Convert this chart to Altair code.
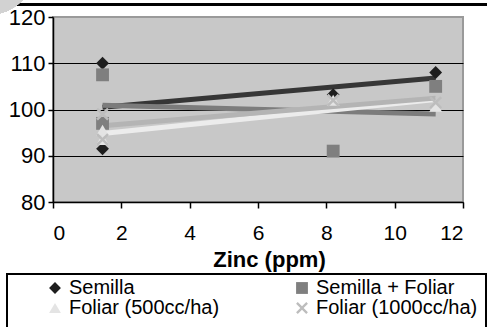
import altair as alt
import pandas as pd

# ---- data ----
series_names = ["Semilla", "Semilla + Foliar", "Foliar (500cc/ha)", "Foliar (1000cc/ha)"]
zinc_ppm = [1.45, 1.45, 8.2, 11.2]
semilla = [110, 91.5, 103.2, 108]
semilla_foliar = [107.5, 97, 91, 105]
foliar_500 = [95.5, 93.5, 102, 100.7]
foliar_1000 = [99, 93.5, 102, 101.5]

x_ticks = [0, 2, 4, 6, 8, 10, 12]
y_ticks = [80, 90, 100, 110, 120]

marker_colors = ["#1e1e1e", "#7f7f7f", "#e4e4e4", "#bdbdbd"]
line_colors = ["#363636", "#7c7c7c", "#ececec", "#b4b4b4"]
x_shape = "M-1,-0.72L-0.72,-1L0,-0.28L0.72,-1L1,-0.72L0.28,0L1,0.72L0.72,1L0,0.28L-0.72,1L-1,0.72L-0.28,0Z"
shapes = ["diamond", "square", "triangle-up", x_shape]

rows = []
for name, lc, vals in zip(series_names, line_colors, [semilla, semilla_foliar, foliar_500, foliar_1000]):
    for xv, yv in zip(zinc_ppm, vals):
        rows.append({"series": name, "lcolor": lc, "zinc": xv, "value": yv})
df = pd.DataFrame(rows)

FONT = "Liberation Sans"

x_enc = alt.X(
    "zinc:Q",
    scale=alt.Scale(domain=[0, 12], nice=False),
    axis=alt.Axis(
        values=x_ticks, title="Zinc (ppm)", grid=False,
        tickSize=6, tickColor="black", domainColor="black", domainWidth=1.5, tickWidth=1.5,
        labelFontSize=21, labelFont=FONT, labelColor="black", labelPadding=14,
        titleFont=FONT, titleFontSize=22, titleFontWeight="bold", titleColor="black",
        titleX=216, titleY=64, titleBaseline="alphabetic",
    ),
)
y_enc = alt.Y(
    "value:Q",
    scale=alt.Scale(domain=[80, 120], nice=False),
    axis=alt.Axis(
        values=y_ticks, title=None, grid=True,
        gridColor={"condition": {"test": "datum.value === 120", "value": "#9a9a9a"}, "value": "black"},
        gridWidth=1.2,
        tickSize=5, tickColor="black", domainColor="black", domainWidth=1.5, tickWidth=1.5,
        labelFontSize=22, labelFont=FONT, labelColor="black", labelPadding=3,
    ),
)

base = alt.Chart(df)

lines = base.transform_regression(
    "zinc", "value", groupby=["series", "lcolor"]
).mark_line(strokeWidth=5, strokeCap="butt").encode(
    x=x_enc,
    y=y_enc,
    color=alt.Color("lcolor:N", scale=None),
    detail="series:N",
)

legend = alt.Legend(
    orient="none", legendX=-8, legendY=261, columns=2, direction="horizontal", title=None,
    labelFontSize=20, labelFont=FONT, labelColor="black", labelLimit=400,
    symbolSize=140, symbolStrokeWidth=0, columnPadding=72, rowPadding=0,
    labelOffset=4, padding=0, symbolOpacity=1,
)

points = base.mark_point(filled=True, size=165, opacity=1).encode(
    x=x_enc,
    y=y_enc,
    color=alt.Color("series:N", scale=alt.Scale(domain=series_names, range=marker_colors), legend=legend),
    shape=alt.Shape("series:N", scale=alt.Scale(domain=series_names, range=shapes), legend=legend),
)

# decorative frame pieces
deco_circle = alt.Chart(df).mark_circle(size=7854, color="#d2d2d2", opacity=1).encode(
    x=alt.value(-63), y=alt.value(-47)
)
top_rule = alt.Chart(df).mark_rule(color="black", strokeWidth=1.5).encode(
    x=alt.value(-53), x2=alt.value(434), y=alt.value(-12.5)
)
legend_box = alt.Chart(df).mark_rect(fillOpacity=0, stroke="black", strokeWidth=1.5).encode(
    x=alt.value(-46), x2=alt.value(433), y=alt.value(257), y2=alt.value(320)
)

chart = alt.layer(top_rule, deco_circle, lines, points, legend_box).properties(
    width=410, height=185,
    autosize=alt.AutoSizeParams(type="none"),
    padding={"left": 53, "top": 17, "right": 24, "bottom": 125},
    background="white",
).configure_view(
    fill="#c8c8c8", stroke="#9a9a9a", strokeWidth=2
)

chart.save("out.html", embed_options={"renderer": "svg", "actions": False})
